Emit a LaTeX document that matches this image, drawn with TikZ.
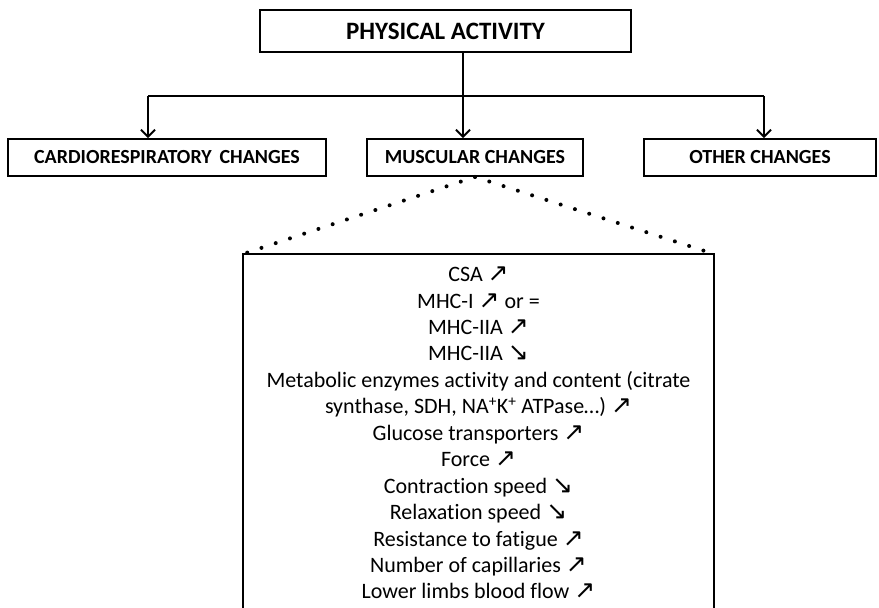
\documentclass[tikz,border=0pt]{standalone}
\usepackage{fontspec}
\setmainfont{Carlito}[Ligatures={NoCommon}]
\newfontfamily\symf{DejaVu Sans}
\usetikzlibrary{arrows.meta}
\newcommand{\up}{{\symf\fontsize{25}{25}\selectfont ↗}}
\newcommand{\dn}{{\symf\fontsize{25}{25}\selectfont ↘}}
\tikzset{
  box/.style={draw, line width=1.8pt, inner sep=0pt, align=center},
  head/.style={box, font=\bfseries\fontsize{25}{28}\selectfont},
  sub/.style={box, font=\bfseries\fontsize{20}{23}\selectfont, minimum height=37pt},
  conn/.style={line width=2pt},
  arr/.style={conn, -{Straight Barb[length=7pt,width=14pt,line width=2pt]}},
  dots/.style={line width=4pt, line cap=round, dash pattern=on 0pt off 15pt}
}
\begin{document}
\begin{tikzpicture}[x=1pt,y=-1pt]
\useasboundingbox (0,0) rectangle (879,608);
\node[head, minimum width=371pt, minimum height=42pt] (pa) at (445.5,31) {PHYSICAL ACTIVITY};
\node[sub, minimum width=318pt] (cardio) at (167,157.5) {CARDIORESPIRATORY\, CHANGES};
\node[sub, minimum width=216pt] (musc) at (475,157.5) {MUSCULAR CHANGES};
\node[sub, minimum width=232pt] (other) at (760,157.5) {OTHER CHANGES};
\coordinate (j) at (463,96);
\coordinate (ca) at (148,96);
\coordinate (oa) at (764,96);
\draw[arr] (pa.south -| j) -- (musc.north -| j);
\draw[conn] (ca) -- (oa);
\draw[arr] (ca) -- (ca |- cardio.north);
\draw[arr] (oa) -- (oa |- other.north);
% big box (open at the bottom edge)
\coordinate (tl) at (243,254);
\coordinate (tr) at (714,254);
\coordinate (bl) at (243,610);
\coordinate (br) at (714,610);
\draw[line width=1.8pt] (bl) -- (tl) -- (tr) -- (br);
\coordinate (apex) at (musc.south);
\draw[dots] (apex) -- (tl);
\draw[dots] (apex) -- (tr);
\node[inner sep=0pt, align=center, font=\fontsize{22}{26.45}\selectfont] (list) at (478.5,433) {%
CSA \up\\
MHC-I \up{} or =\\
MHC-IIA \up\\
MHC-IIA \dn\\
Metabolic enzymes activity and content (citrate\\
synthase, SDH, NA\textsuperscript{+}K\textsuperscript{+} ATPase\dots) \up\\
Glucose transporters \up\\
Force \up\\
Contraction speed \dn\\
Relaxation speed \dn\\
Resistance to fatigue \up\\
Number of capillaries \up\\
Lower limbs blood flow \up};
\end{tikzpicture}
\end{document}
